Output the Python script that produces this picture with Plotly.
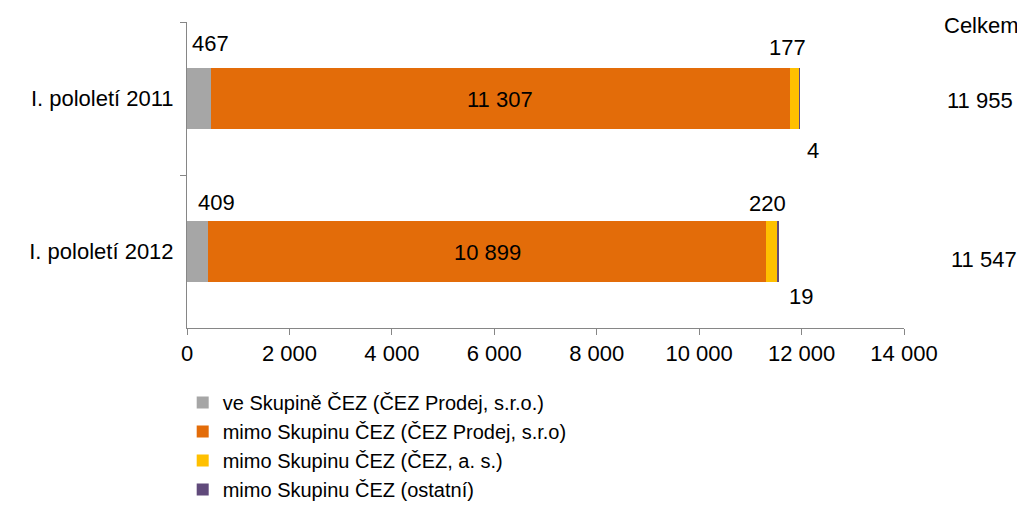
import plotly.graph_objects as go

# Hodnoty
kategorie = ["I. pololetí 2011", "I. pololetí 2012"]
ve_skupine = [467, 409]
mimo_prodej = [11307, 10899]
mimo_cez = [177, 220]
mimo_ostatni = [4, 19]
celkem = [11955, 11547]
osa_x = [0, 2000, 4000, 6000, 8000, 10000, 12000, 14000]

serie = [
    ("ve Skupině ČEZ (ČEZ Prodej, s.r.o.)", ve_skupine, "#A6A6A6"),
    ("mimo Skupinu ČEZ (ČEZ Prodej, s.r.o)", mimo_prodej, "#E36C09"),
    ("mimo Skupinu ČEZ (ČEZ, a. s.)", mimo_cez, "#FFC000"),
    ("mimo Skupinu ČEZ (ostatní)", mimo_ostatni, "#604A7B"),
]


def fmt(v):
    return f"{v:,}".replace(",", " ")


fig = go.Figure()
for nazev, hodnoty, barva in serie:
    fig.add_trace(go.Bar(y=kategorie, x=hodnoty, name=nazev, orientation="h",
                         marker=dict(color=barva, line=dict(width=0)), width=0.40))

# posuny popisků (ručně umístěné jako v Excelu)
posun_seda = [(0, 55), (9, 49)]
posun_zluta = [(-3, 51), (1, 48)]
posun_fialova = [(14, -52), (23, -45)]
posun_celkem = [(1.106, -2), (1.112, -8)]

for i, kat in enumerate(kategorie):
    fig.add_annotation(x=ve_skupine[i], y=kat, text=fmt(ve_skupine[i]), showarrow=False,
                       xshift=posun_seda[i][0], yshift=posun_seda[i][1])
    fig.add_annotation(x=ve_skupine[i] + mimo_prodej[i] / 2, y=kat, text=fmt(mimo_prodej[i]),
                       showarrow=False, yshift=-1)
    konec = ve_skupine[i] + mimo_prodej[i]
    fig.add_annotation(x=konec, y=kat, text=fmt(mimo_cez[i]), showarrow=False,
                       xshift=posun_zluta[i][0], yshift=posun_zluta[i][1])
    fig.add_annotation(x=celkem[i], y=kat, text=fmt(mimo_ostatni[i]), showarrow=False,
                       xshift=posun_fialova[i][0], yshift=posun_fialova[i][1])
    fig.add_annotation(x=posun_celkem[i][0], xref="paper", xanchor="center", y=kat,
                       text=fmt(celkem[i]), showarrow=False, yshift=posun_celkem[i][1])

fig.add_annotation(x=1.108, xref="paper", xanchor="center", y=1.0, yref="paper",
                   yanchor="middle", text="Celkem", showarrow=False, yshift=-3)

fig.update_layout(
    barmode="stack",
    width=1017, height=514,
    margin=dict(l=179, r=121, t=14, b=194),
    plot_bgcolor="white", paper_bgcolor="white",
    font=dict(family="Liberation Sans, Arial, sans-serif", size=22, color="black"),
    legend=dict(orientation="v", x=-0.006, y=-0.18, xanchor="left", yanchor="top",
                traceorder="normal", itemwidth=30, tracegroupgap=0,
                bgcolor="rgba(0,0,0,0)", font=dict(size=20)),
    showlegend=True,
)
fig.update_xaxes(range=[0, 14000], tickvals=osa_x, ticktext=[fmt(v) for v in osa_x],
                 showgrid=False, zeroline=False, showline=True, linecolor="#868686",
                 linewidth=1, ticks="outside", ticklen=6, tickcolor="#868686")
fig.update_yaxes(range=[1.5, -0.5], showgrid=False, zeroline=False, showline=True,
                 linecolor="#868686", linewidth=1, ticks="outside", ticklen=6,
                 tickcolor="#868686", tickson="boundaries", ticklabelstandoff=8)

fig.write_html("out.html")
